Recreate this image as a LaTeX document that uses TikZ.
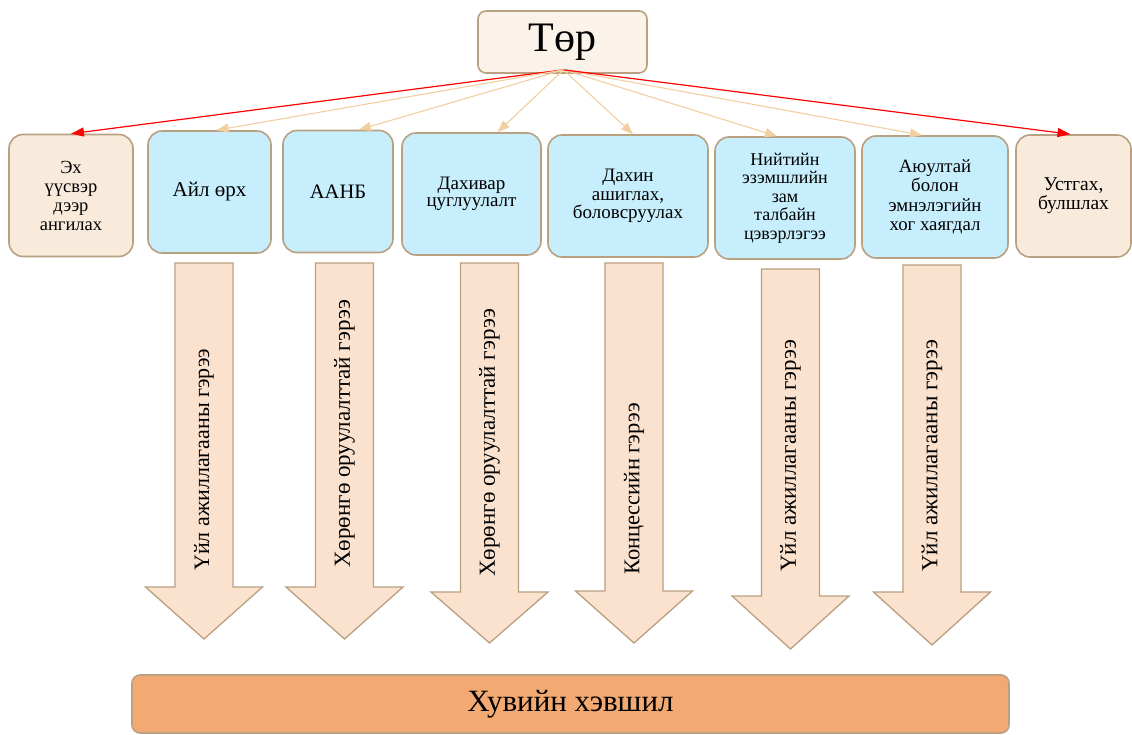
\documentclass[tikz,border=0pt]{standalone}
\usepackage{fontspec}
\setmainfont{Liberation Serif}
\usetikzlibrary{arrows.meta}
\definecolor{torEdge}{RGB}{185,160,128}
\definecolor{torFill}{RGB}{251,243,234}
\definecolor{srcFill}{RGB}{248,235,220}
\definecolor{flowBlue}{RGB}{199,238,252}
\definecolor{pactFill}{RGB}{251,226,207}
\definecolor{privFill}{RGB}{242,170,114}
\definecolor{linkTan}{RGB}{242,206,160}
\definecolor{linkRed}{RGB}{255,0,0}
\newcommand{\fsz}[2]{\fontsize{#1}{#2}\selectfont}
% block arrow: centre x, top, head base, tip
\newcommand{\pactarrow}[4]{%
  \draw[pactbody] (#1-29,#2) -- (#1+29,#2) -- (#1+29,#3) -- (#1+58.5,#3)
    -- (#1,#4) -- (#1-58.5,#3) -- (#1-29,#3) -- cycle;}

\begin{document}
\begin{tikzpicture}[x=1pt, y=-1pt,
    torbox/.style={rectangle, rounded corners=8pt, draw=torEdge, fill=torFill,
                   line width=1.6pt, minimum width=169pt, minimum height=62pt,
                   inner sep=0pt, font=\fsz{42}{46}},
    srcbox/.style={rectangle, rounded corners=14pt, draw=torEdge, fill=srcFill,
                   line width=1.6pt, minimum height=122pt, inner sep=0pt,
                   align=center, font=\fsz{18.5}{19}},
    flowbox/.style={srcbox, fill=flowBlue},
    privbox/.style={rectangle, rounded corners=8pt, draw=torEdge, fill=privFill,
                    line width=1.6pt, minimum width=877pt, minimum height=58pt,
                    inner sep=0pt, font=\fsz{31}{34}},
    pactbody/.style={draw=torEdge, fill=pactFill, line width=1.3pt},
    pact/.style={rotate=90, anchor=west, inner sep=0pt, font=\fsz{23}{25}},
    tanlink/.style={draw=linkTan, line width=1.1pt, -{Triangle[length=12pt,width=9pt]}},
    redlink/.style={draw=linkRed, line width=1.2pt, -{Triangle[length=13pt,width=9pt]}}
  ]
  \useasboundingbox (0,0) rectangle (1132,734);

  \node[torbox] (tor) at (562.5,42) {Төр};
  \coordinate (hub) at ([xshift=1pt,yshift=4pt]tor.south);

  \node[srcbox, minimum width=124pt] (sort) at (71,195.5) {Эх\\үүсвэр\\дээр\\ангилах};
  \node[flowbox, minimum width=123pt, font=\fsz{21}{23}] (house) at (209.5,192) {Айл өрх};
  \node[flowbox, minimum width=110pt, font=\fsz{20.5}{23}] (aanb) at (338,191.5) {ААНБ};
  \node[flowbox, minimum width=139pt, font=\fsz{19}{17.5}] (collect) at (471.5,194) {Дахивар\\цуглуулалт};
  \node[flowbox, minimum width=160pt, font=\fsz{19}{18.5}] (reuse) at (628,196) {Дахин\\ашиглах,\\боловсруулах};
  \node[flowbox, minimum width=140pt, font=\fsz{18}{18.5}] (street) at (785,198) {Нийтийн\\эзэмшлийн\\зам\\талбайн\\цэвэрлэгээ};
  \node[flowbox, minimum width=146pt, font=\fsz{18.8}{19.5}] (hazard) at (935,197) {Аюултай\\болон\\эмнэлэгийн\\хог хаягдал};
  \node[srcbox, minimum width=115pt, font=\fsz{19.5}{19}] (bury) at (1073.5,196) {Устгах,\\булшлах};

  \draw[redlink] (hub) -- (sort.north);
  \draw[tanlink] (hub) -- ([xshift=7pt]house.north);
  \draw[tanlink] (hub) -- ([xshift=21pt]aanb.north);
  \draw[tanlink] (hub) -- ([xshift=26pt]collect.north);
  \draw[tanlink] (hub) -- ([xshift=5pt]reuse.north);
  \draw[tanlink] (hub) -- ([xshift=-8pt]street.north);
  \draw[tanlink] (hub) -- ([xshift=-13pt]hazard.north);
  \draw[redlink] (hub) -- ([xshift=-3pt]bury.north);

  \pactarrow{204}{263}{587}{639}
  \pactarrow{344.5}{263}{587}{639}
  \pactarrow{489.5}{263}{592}{643}
  \pactarrow{634}{263}{591}{643}
  \pactarrow{790.5}{269}{596}{649}
  \pactarrow{932}{265}{592}{645}

  \node[pact, font=\fsz{22}{24}] (p1) at (204,571) {Үйл ажиллагааны гэрээ};
  \node[pact] (p2) at (344.5,568) {Хөрөнгө оруулалттай гэрээ};
  \node[pact] (p3) at (489.5,577) {Хөрөнгө оруулалттай гэрээ};
  \node[pact, font=\fsz{22.5}{24}] (p4) at (634,575) {Концессийн гэрээ};
  \node[pact] (p5) at (790.5,572) {Үйл ажиллагааны гэрээ};
  \node[pact] (p6) at (932,572) {Үйл ажиллагааны гэрээ};

  \node[privbox] (priv) at (570.5,704) {Хувийн хэвшил};
\end{tikzpicture}
\end{document}
